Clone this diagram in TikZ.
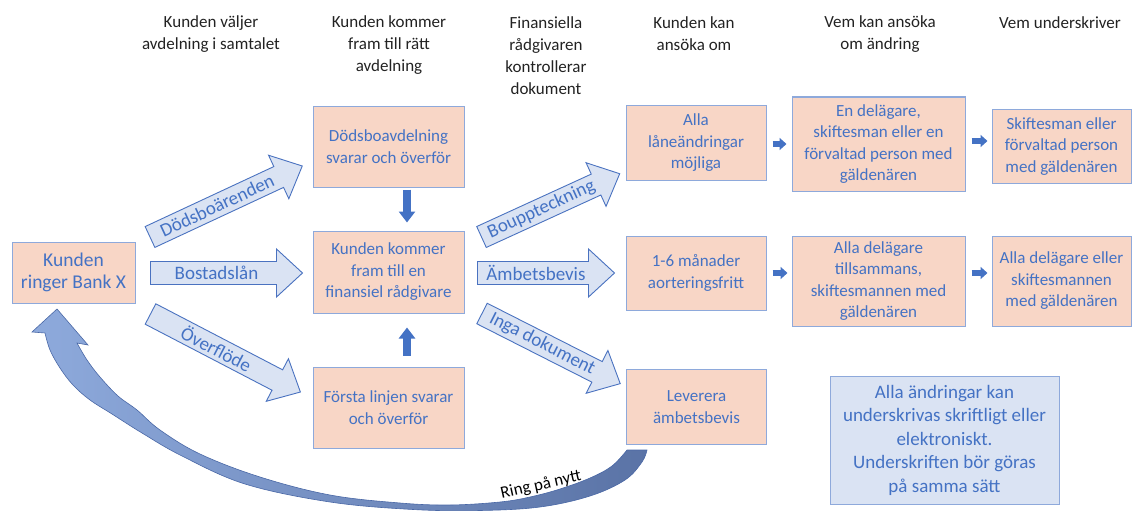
\documentclass[tikz,border=0pt]{standalone}
\usepackage{fontspec}
\setmainfont{Carlito}
\usetikzlibrary{calc,arrows.meta}
\definecolor{boxfill}{HTML}{F8D6C6}
\definecolor{boxline}{HTML}{8EA9DB}
\definecolor{txtblue}{HTML}{4472C4}
\definecolor{lightblue}{HTML}{DAE3F3}
\definecolor{arrline}{HTML}{4A72C0}
\definecolor{ringL}{HTML}{8EAADC}
\definecolor{ringR}{HTML}{5A73A6}
\definecolor{ringline}{HTML}{4A68A6}
\definecolor{hdrcol}{HTML}{222222}
\tikzset{
  box/.style={draw=boxline, line width=1pt, fill=boxfill, text=txtblue,
    font=\fontsize{17}{21.5}\selectfont, align=center, inner sep=0pt},
  hdr/.style={text=hdrcol, font=\fontsize{17}{22}\selectfont, align=center, inner sep=0pt},
  bigarrow/.style={draw=arrline, line width=0.9pt, fill=lightblue, line join=miter},
  arrlabel/.style={text=txtblue, font=\fontsize{19}{22}\selectfont, inner sep=0pt},
  smallarr/.style={draw=txtblue, line width=8pt, -{Triangle[width=16pt,length=11pt]}},
  smallarrh/.style={draw=txtblue, line width=6pt, -{Triangle[width=12pt,length=7pt]}},
  notebox/.style={draw=boxline, line width=1pt, fill=lightblue, text=txtblue,
    font=\fontsize{19}{23.5}\selectfont, align=center, inner sep=0pt},
  ringarrow/.style={left color=ringL, right color=ringR, draw=ringline, line width=0.6pt}
}
\newcommand\bigarr[4]{%
  \begin{scope}[shift={(#1)}, rotate=#2]
    \draw[bigarrow] (0,-11.5) -- ({#3-26},-11.5) -- ({#3-26},-24) -- (#3,0)
      -- ({#3-26},24) -- ({#3-26},11.5) -- (0,11.5) -- cycle;
    \node[arrlabel, rotate=#2] at ({(#3-26)/2+3},0) {#4};
  \end{scope}}
\begin{document}
\begin{tikzpicture}[x=1pt,y=-1pt]
\useasboundingbox (0,0) rectangle (1133,511);

% headers
\node[hdr] (h1) at (211,34) {Kunden väljer\\avdelning i samtalet};
\node[hdr] (h2) at (389,45) {Kunden kommer\\fram till rätt\\avdelning};
\node[hdr] (h3) at (546,56) {Finansiella\\rådgivaren\\kontrollerar\\dokument};
\node[hdr] (h4) at (694,34) {Kunden kan\\ansöka om};
\node[hdr] (h5) at (880,34) {Vem kan ansöka\\om ändring};
\node[hdr] (h6) at (1060,23) {Vem underskriver};

% boxes
\node[box, minimum width=123pt, minimum height=61pt, font=\fontsize{19.5}{22}\selectfont] (kund) at (73.5,272.5) {Kunden\\ringer Bank X};
\node[box, minimum width=151pt, minimum height=81pt] (dods) at (388.5,146.5) {Dödsboavdelning\\svarar och överför};
\node[box, minimum width=151pt, minimum height=82pt] (radg) at (388.5,272) {Kunden kommer\\fram till en\\finansiel rådgivare};
\node[box, minimum width=151pt, minimum height=81pt] (forsta) at (388.5,407.5) {Första linjen svarar\\och överför};
\node[box, minimum width=140pt, minimum height=75pt] (lan) at (696,143) {Alla\\låneändringar\\möjliga};
\node[box, minimum width=140pt, minimum height=74pt] (mon) at (696,273) {1-6 månader\\aorteringsfritt};
\node[box, minimum width=140pt, minimum height=75pt] (lev) at (696.5,407) {Leverera\\ämbetsbevis};
\node[box, minimum width=173pt, minimum height=94pt] (en) at (878.5,144) {En delägare,\\skiftesman eller en\\förvaltad person med\\gäldenären};
\node[box, minimum width=173pt, minimum height=90pt] (allad) at (878.5,281) {Alla delägare\\tillsammans,\\skiftesmannen med\\gäldenären};
\node[box, minimum width=139pt, minimum height=74pt] (skift) at (1061.5,146.5) {Skiftesman eller\\förvaltad person\\med gäldenären};
\node[box, minimum width=139pt, minimum height=90pt] (alladel) at (1061.5,281) {Alla delägare eller\\skiftesmannen\\med gäldenären};
\node[notebox, minimum width=229pt, minimum height=128pt] (note) at (944.5,440) {Alla ändringar kan\\underskrivas skriftligt eller\\elektroniskt.\\Underskriften bör göras\\på samma sätt};

% block arrows
\coordinate (s1) at ($(kund.east)+(14.5,-35.5)$);
\coordinate (s2) at ($(kund.east)+(15,0.5)$);
\coordinate (s3) at ($(kund.east)+(15,41.5)$);
\coordinate (s4) at ($(radg.east)+(17,-35)$);
\coordinate (s5) at ($(radg.east)+(13,1)$);
\coordinate (s6) at ($(radg.east)+(17.5,41.5)$);
\bigarr{s1}{25}{168}{Dödsboärenden}
\bigarr{s2}{0}{152}{Bostadslån}
\bigarr{s3}{-27.5}{169}{Överflöde}
\bigarr{s4}{24.6}{152}{Bouppteckning}
\bigarr{s5}{0}{137}{Ämbetsbevis}
\bigarr{s6}{-26.9}{155}{Inga dokument}

% small arrows
\draw[smallarr] ($(dods.south)+(18.5,2)$) -- ($(radg.north)+(18.5,-8)$);
\draw[smallarr] ($(forsta.north)+(18.5,-11)$) -- ($(radg.south)+(18.5,14)$);
\draw[smallarrh] ($(lan.east)+(6,1)$) -- ($(en.west)+(-5,0)$);
\draw[smallarrh] ($(en.east)+(6,-3)$) -- ++(16,0);
\draw[smallarrh] ($(mon.east)+(6,0)$) -- ++(15,0);
\draw[smallarrh] ($(allad.east)+(6,-8)$) -- ++(16,0);

% curved return arrow
\shade[ringarrow] (57,309) -- (32,332) -- (45,333)
  -- plot[smooth, tension=0.6] coordinates {(45,333) (50,350) (60,368) (73,385) (90,400) (112,414) (142,433) (182,456) (245,484) (330,502) (413,509.5) (480,510.5) (540,507) (590,496) (625,480) (642,462) (647,450)}
  -- (627,450)
  -- plot[smooth, tension=0.6] coordinates {(627,450) (612,466) (590,478) (560,489) (530,497) (500,502) (450,505) (400,503) (330,495) (260,477) (200,454) (160,430) (137,410) (118,396) (100,377) (87,360) (77,343)}
  -- (88,345) -- cycle;
\node[text=black, font=\fontsize{17}{20}\selectfont, rotate=12.6, inner sep=0pt] (ring) at (541,485) {Ring på nytt};
\end{tikzpicture}
\end{document}
